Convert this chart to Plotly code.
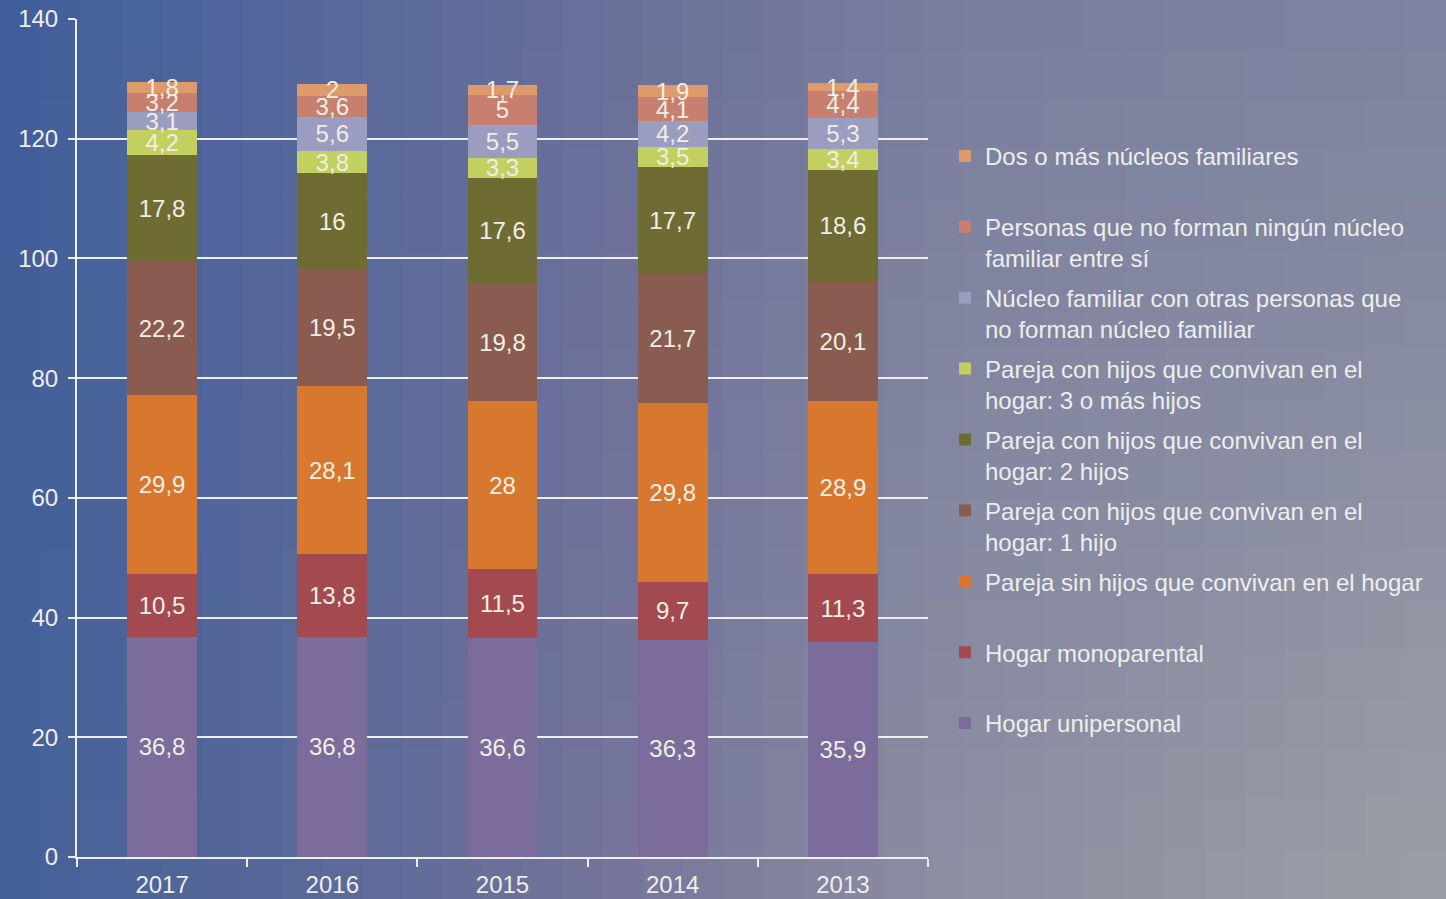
import plotly.graph_objects as go

years = ["2017", "2016", "2015", "2014", "2013"]

series_names = [
    "Hogar unipersonal",
    "Hogar monoparental",
    "Pareja sin hijos que convivan en el hogar",
    "Pareja con hijos que convivan en el<br>hogar: 1 hijo",
    "Pareja con hijos que convivan en el<br>hogar: 2 hijos",
    "Pareja con hijos que convivan en el<br>hogar: 3 o más hijos",
    "Núcleo familiar con otras personas que<br>no forman núcleo familiar",
    "Personas que no forman ningún núcleo<br>familiar entre sí",
    "Dos o más núcleos familiares",
]

unipersonal = [36.8, 36.8, 36.6, 36.3, 35.9]
monoparental = [10.5, 13.8, 11.5, 9.7, 11.3]
sin_hijos = [29.9, 28.1, 28.0, 29.8, 28.9]
un_hijo = [22.2, 19.5, 19.8, 21.7, 20.1]
dos_hijos = [17.8, 16.0, 17.6, 17.7, 18.6]
tres_hijos = [4.2, 3.8, 3.3, 3.5, 3.4]
nucleo_otras = [3.1, 5.6, 5.5, 4.2, 5.3]
sin_nucleo = [3.2, 3.6, 5.0, 4.1, 4.4]
dos_nucleos = [1.8, 2.0, 1.7, 1.9, 1.4]

series_values = [unipersonal, monoparental, sin_hijos, un_hijo, dos_hijos,
                 tres_hijos, nucleo_otras, sin_nucleo, dos_nucleos]

colors = ["#7b6c9b", "#a34a50", "#d8782f", "#8a5c4f", "#6f6c33",
          "#c3cf5e", "#9a9dbf", "#c7806f", "#df9a6c"]

text_color = "#f1eee6"
font_family = "Liberation Sans, Arial, sans-serif"

fig = go.Figure()

n = len(series_names)
single_line = {0, 1, 2, 8}
for i, (name, vals, col) in enumerate(zip(series_names, series_values, colors)):
    legend_name = name + ("<br> " if i in single_line else "")
    fig.add_trace(go.Bar(
        x=years,
        y=vals,
        name=legend_name,
        legendgroup=str(i),
        legendrank=n - i,
        marker=dict(color=col, line=dict(width=0)),
        text=[f"{v:g}".replace(".", ",") for v in vals],
        textposition="inside",
        insidetextanchor="middle",
        textangle=0,
        textfont=dict(color=text_color, size=24, family=font_family),
        cliponaxis=False,
    ))

# background gradient (approximating the scanned page)
W, H = 1446, 899
L, R, T, B = 77, 518, 19, 42
pw, ph = W - L - R, H - T - B

top_stops = [(0, (0x40, 0x5e, 0x9b)), (300, (0x54, 0x68, 0x9c)), (600, (0x69, 0x6f, 0x98)),
             (950, (0x79, 0x7e, 0x9e)), (1446, (0x7c, 0x82, 0xa0))]
bot_stops = [(0, (0x44, 0x60, 0x99)), (300, (0x58, 0x68, 0x98)), (600, (0x74, 0x74, 0x9a)),
             (950, (0x8d, 0x8f, 0xa2)), (1446, (0x9c, 0x9e, 0xa5))]


def interp(stops, x):
    for (x0, c0), (x1, c1) in zip(stops[:-1], stops[1:]):
        if x0 <= x <= x1:
            t = (x - x0) / (x1 - x0)
            return tuple(c0[k] + t * (c1[k] - c0[k]) for k in range(3))
    return stops[-1][1]


shapes = []
ncol, nrow = 36, 18
for ci in range(ncol):
    px0 = W * ci / ncol
    px1 = W * (ci + 1) / ncol
    xc = (px0 + px1) / 2
    ct = interp(top_stops, xc)
    cb = interp(bot_stops, xc)
    for ri in range(nrow):
        py0 = H * ri / nrow
        py1 = H * (ri + 1) / nrow
        t = ((py0 + py1) / 2) / H
        c = tuple(int(round(ct[k] + t * (cb[k] - ct[k]))) for k in range(3))
        shapes.append(dict(
            type="rect", xref="paper", yref="paper", layer="below",
            x0=(px0 - L) / pw, x1=(px1 + 1 - L) / pw,
            y0=(H - B - py1 - 1) / ph, y1=(H - B - py0) / ph,
            fillcolor="rgb(%d,%d,%d)" % c, line=dict(width=0),
        ))

fig.update_layout(
    width=W, height=H,
    autosize=False,
    barmode="stack",
    bargap=0.59,
    separators=",.",
    paper_bgcolor="#6a7098",
    plot_bgcolor="rgba(0,0,0,0)",
    margin=dict(l=L, r=R, t=T, b=B, pad=0, autoexpand=False),
    font=dict(family=font_family, color="#eeeeee", size=21),
    uniformtext=dict(minsize=24, mode="show"),
    shapes=shapes,
    showlegend=True,
    legend=dict(
        traceorder="grouped",
        tracegroupgap=5.5,
        x=1.02, xanchor="left",
        y=0.863, yanchor="top",
        valign="top",
        bgcolor="rgba(0,0,0,0)",
        font=dict(size=24, color="#eeeeee", family=font_family),
        itemclick=False,
    ),
    xaxis=dict(
        automargin=False,
        showline=True, linecolor="#eeeeee", linewidth=2,
        ticks="outside", tickson="boundaries", ticklen=8, tickcolor="#eeeeee", tickwidth=2,
        tickfont=dict(size=24, color="#eeeeee"),
        ticklabelstandoff=5,
        showgrid=False,
    ),
    yaxis=dict(
        automargin=False,
        range=[0, 140], dtick=20,
        showline=True, linecolor="#eeeeee", linewidth=2,
        ticks="outside", ticklen=7, tickcolor="#eeeeee", tickwidth=2,
        tickfont=dict(size=24, color="#eeeeee"),
        ticklabelstandoff=5,
        showgrid=True, gridcolor="#eeeeee", gridwidth=2,
        zeroline=False,
    ),
)

fig.write_html(
    "out.html",
    config={"displayModeBar": False},
    post_script="document.body.style.margin='0';document.body.style.overflow='hidden';",
)
